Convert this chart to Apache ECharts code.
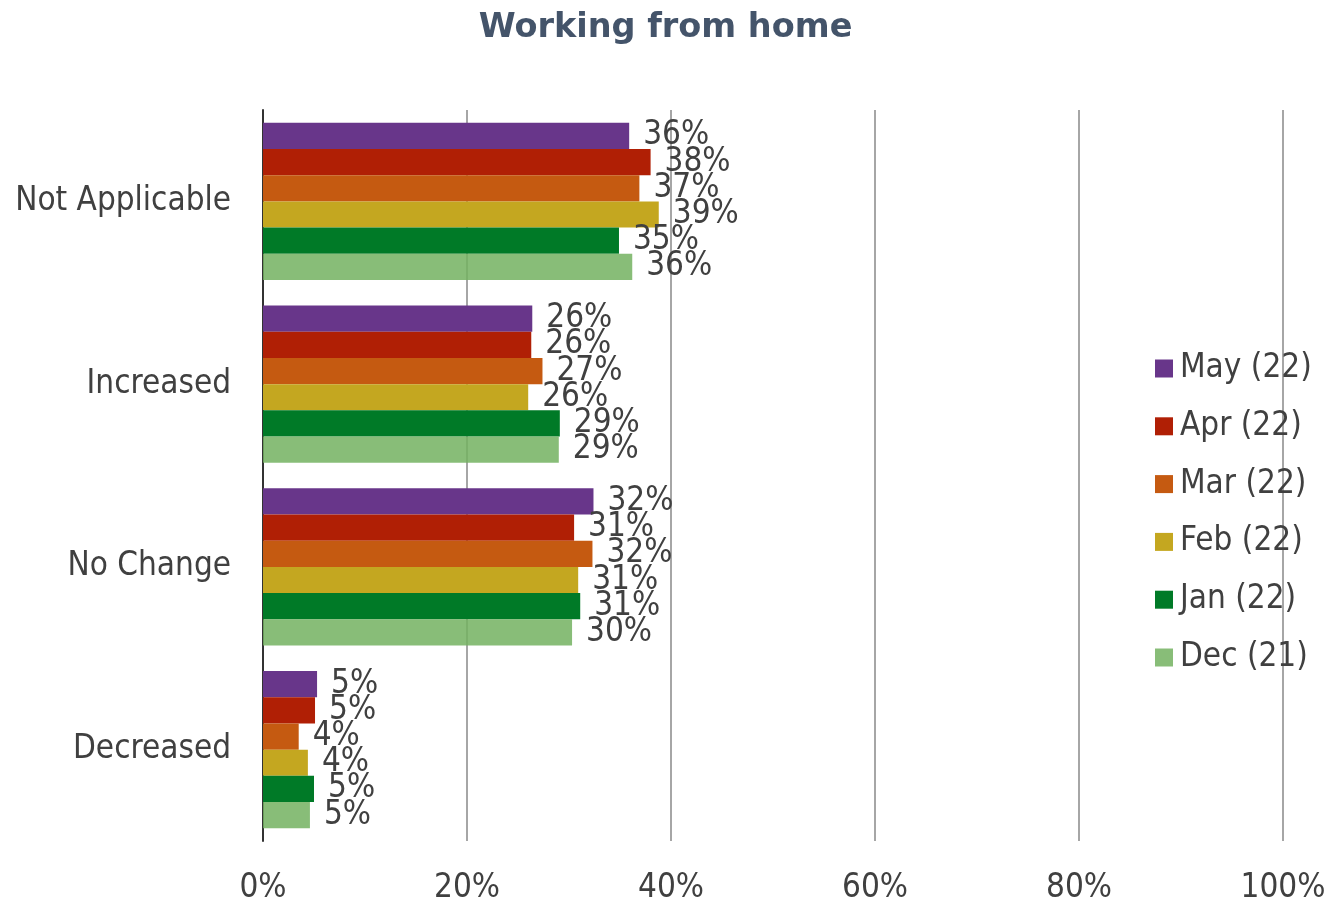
<!DOCTYPE html>
<html><head><meta charset="utf-8">
<script src="https://cdn.jsdelivr.net/npm/echarts@6/dist/echarts.min.js"></script>
<style>html,body{margin:0;padding:0;background:#fff}#c{width:1331px;height:905px}</style>
</head><body><div id="c"></div>
<script>
const categories = ['Not Applicable', 'Increased', 'No Change', 'Decreased'];
const seriesNames = ['May (22)', 'Apr (22)', 'Mar (22)', 'Feb (22)', 'Jan (22)', 'Dec (21)'];
const may22 = [35.9, 26.4, 32.4, 5.3];
const apr22 = [38.0, 26.3, 30.5, 5.1];
const mar22 = [36.9, 27.4, 32.3, 3.5];
const feb22 = [38.8, 26.0, 30.9, 4.4];
const jan22 = [34.9, 29.1, 31.1, 5.0];
const dec21 = [36.2, 29.0, 30.3, 4.6];
const xTicks = [0, 20, 40, 60, 80, 100];

const allData = [may22, apr22, mar22, feb22, jan22, dec21];
const colors = ['#68368A', '#B01F05', '#C55A11', '#C4A720', '#007A27', 'rgba(115,177,96,0.85)'];
const legendColors = ['#68368A', '#B01F05', '#C55A11', '#C4A720', '#007A27', '#88BD78'];
const font = '"DejaVu Sans Condensed", "DejaVu Sans"';

const chart = echarts.init(document.getElementById('c'));
chart.setOption({
  animation: false,
  title: {
    text: 'Working from home', left: 'center', top: 6,
    textStyle: { fontFamily: '"DejaVu Sans"', fontWeight: 'bold', fontSize: 33.5, color: '#44546A' }
  },
  legend: {
    orient: 'vertical', left: 1150, top: 347,
    itemWidth: 18, itemHeight: 18, itemGap: 24.8, icon: 'rect',
    textStyle: { fontFamily: font, fontSize: 33, lineHeight: 30, color: '#404040', padding: [0, 0, 0, 2] },
    data: seriesNames.map((n, i) => ({ name: n, itemStyle: { color: legendColors[i] } }))
  },
  grid: { left: 263, right: 48, top: 110, bottom: 62, containLabel: false },
  xAxis: {
    type: 'value', min: 0, max: 100, interval: 20,
    axisLine: { show: false }, axisTick: { show: false },
    splitLine: { lineStyle: { color: '#A6A6A6', width: 2 } },
    axisLabel: { fontFamily: font, fontSize: 33, color: '#404040', margin: 31,
      formatter: v => xTicks.includes(v) ? v + '%' : '' }
  },
  yAxis: {
    type: 'category', data: categories, inverse: true,
    axisLine: { lineStyle: { color: '#333', width: 2 } },
    axisTick: { show: false },
    axisLabel: { fontFamily: font, fontSize: 33, color: '#404040', margin: 32, padding: [0, 0, 6, 0] }
  },
  series: seriesNames.map((n, i) => ({
    name: n, type: 'bar', data: allData[i],
    barGap: '0%', barCategoryGap: '14%',
    itemStyle: { color: colors[i] },
    label: { show: true, position: 'right', distance: 14,
      fontFamily: font, fontSize: 33, color: '#404040', padding: [0, 0, 3, 0],
      formatter: p => Math.round(p.value) + '%' }
  }))
});
</script></body></html>
